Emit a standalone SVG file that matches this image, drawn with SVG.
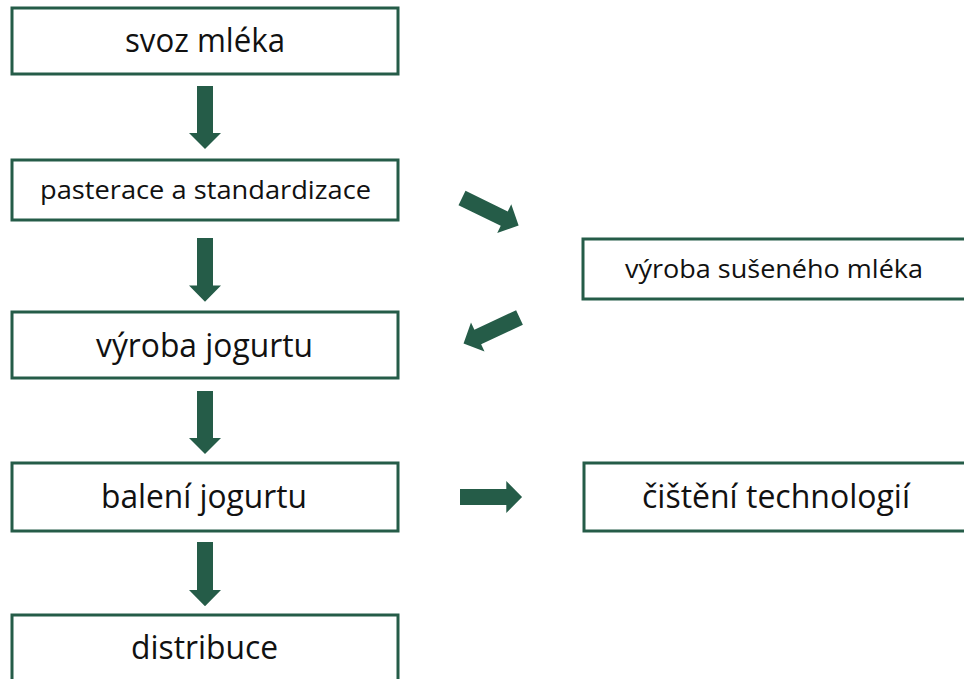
<svg xmlns="http://www.w3.org/2000/svg" width="964" height="679" viewBox="0 0 964 679">
<defs>
<style>
.box rect{fill:#ffffff;stroke:#255C48;stroke-width:3}
.lbl{font-family:"Open Sans","Noto Sans","Liberation Sans",sans-serif;fill:#111111;text-anchor:start}
.big{font-size:32px}
.small{font-size:25px}
.arr{fill:#255C48}
</style>
<polygon id="ar" points="0,-8 47,-8 47,-16 63,0 47,16 47,8 0,8"/>
</defs>
<rect width="964" height="679" fill="#ffffff"/>
<g id="n1" class="box"><rect x="12" y="8" width="386" height="66"/><text class="lbl big" x="125" y="52" textLength="160" lengthAdjust="spacingAndGlyphs">svoz mléka</text></g>
<g id="n2" class="box"><rect x="12" y="160" width="386" height="60"/><text class="lbl small" x="40" y="199" textLength="331" lengthAdjust="spacingAndGlyphs">pasterace a standardizace</text></g>
<g id="n3" class="box"><rect x="12" y="312" width="386" height="66"/><text class="lbl big" x="96" y="357" textLength="217" lengthAdjust="spacingAndGlyphs">výroba jogurtu</text></g>
<g id="n4" class="box"><rect x="12" y="463" width="386" height="68"/><text class="lbl big" x="101" y="508" textLength="206" lengthAdjust="spacingAndGlyphs">balení jogurtu</text></g>
<g id="n5" class="box"><rect x="12" y="615" width="386" height="80"/><text class="lbl big" x="131" y="659" textLength="147" lengthAdjust="spacingAndGlyphs">distribuce</text></g>
<g id="n6" class="box"><rect x="583" y="239" width="400" height="60"/><text class="lbl small" x="625" y="278" textLength="298" lengthAdjust="spacingAndGlyphs">výroba sušeného mléka</text></g>
<g id="n7" class="box"><rect x="584" y="463" width="400" height="68"/><text class="lbl big" x="642" y="508" textLength="268" lengthAdjust="spacingAndGlyphs">čištění technologií</text></g>
<g id="connectors" class="arr">
<use href="#ar" transform="translate(205,86) rotate(90)"/>
<use href="#ar" transform="translate(205,238) rotate(90) scale(1.01,1)"/>
<use href="#ar" transform="translate(205,391) rotate(90)"/>
<use href="#ar" transform="translate(205,542) rotate(90) scale(1.02,1)"/>
<use href="#ar" transform="translate(460,497) scale(0.985,1)"/>
<use href="#ar" transform="translate(462,198) rotate(26)"/>
<use href="#ar" transform="translate(519.5,317.5) rotate(155) scale(0.98,1)"/>
</g>
</svg>
